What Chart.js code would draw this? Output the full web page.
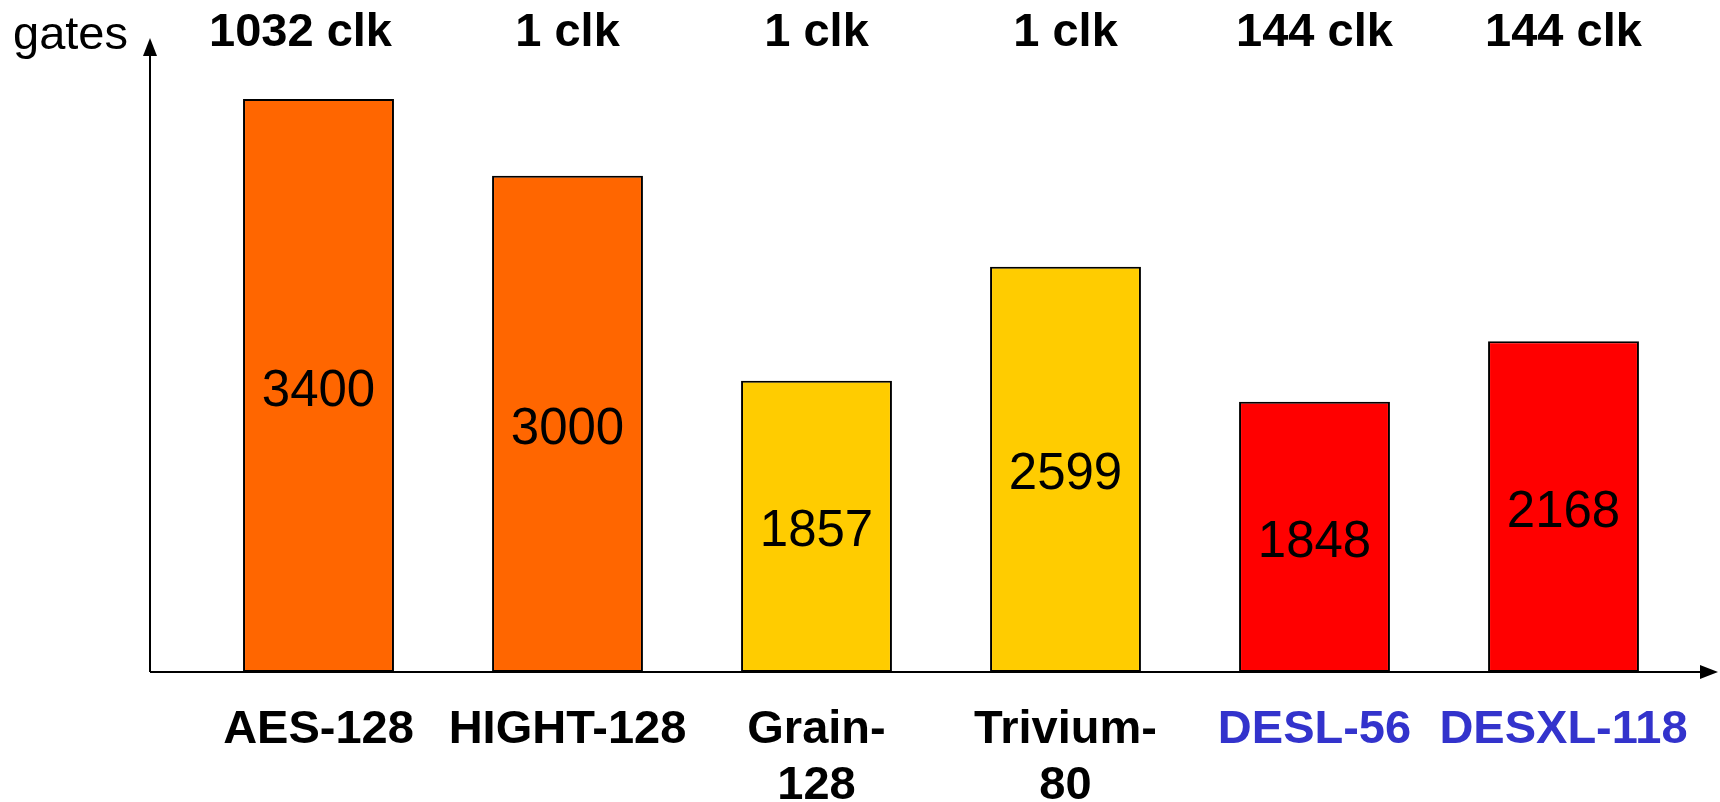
<!DOCTYPE html>
<html>
<head>
<meta charset="utf-8">
<title>gates</title>
<script src="https://cdn.jsdelivr.net/npm/chart.js@4"></script>
<style>
  html, body { margin: 0; padding: 0; background: #fff; }
  #wrap { width: 1720px; height: 802px; }
</style>
</head>
<body>
<div id="wrap"><canvas id="myChart" width="1720" height="802"></canvas></div>
<script>
// categories and values
var ciphers = [['AES-128'], ['HIGHT-128'], ['Grain-', '128'], ['Trivium-', '80'], ['DESL-56'], ['DESXL-118']];
var gateCounts = ['3400', '3000', '1857', '2599', '1848', '2168'];
// bar heights as drawn on the slide (not to scale with the printed counts)
var barHeights = [3400, 2944, 1728, 2404, 1604, 1963];
var clockCycles = ['1032 clk', '1 clk', '1 clk', '1 clk', '144 clk', '144 clk'];

var barColors = ['#FF6600', '#FF6600', '#FFCC00', '#FFCC00', '#FF0000', '#FF0000'];
var labelColors = ['#000000', '#000000', '#000000', '#000000', '#3333CC', '#3333CC'];

var FONT = '"Liberation Sans", Arial, sans-serif';

function arrowHead(ctx, x, y, dir) {
    ctx.beginPath();
    if (dir === 'up') {
        ctx.moveTo(x, y);
        ctx.lineTo(x - 7, y + 18);
        ctx.lineTo(x + 7, y + 18);
    } else {
        ctx.moveTo(x, y);
        ctx.lineTo(x - 18, y - 7);
        ctx.lineTo(x - 18, y + 7);
    }
    ctx.closePath();
    ctx.fill();
}

var slideText = {
    id: 'slideText',
    beforeDatasetsDraw: function (chart) {
        var ctx = chart.ctx;
        var y0 = chart.scales.y.getPixelForValue(0);
        var axisX = 150;
        ctx.save();
        ctx.strokeStyle = '#000';
        ctx.fillStyle = '#000';
        ctx.lineWidth = 2;
        ctx.beginPath();
        ctx.moveTo(axisX, y0);
        ctx.lineTo(axisX, 50);
        ctx.moveTo(axisX, y0);
        ctx.lineTo(1705, y0);
        ctx.stroke();
        arrowHead(ctx, axisX, 38, 'up');
        arrowHead(ctx, 1718, y0, 'right');
        ctx.restore();
    },
    afterDatasetsDraw: function (chart) {
        var ctx = chart.ctx;
        var meta = chart.getDatasetMeta(0);
        ctx.save();

        ctx.fillStyle = '#000';
        ctx.font = '47px ' + FONT;
        ctx.textAlign = 'left';
        ctx.textBaseline = 'alphabetic';
        ctx.fillText('gates', 13, 49);

        meta.data.forEach(function (bar, i) {
            var mid = (bar.y + bar.base) / 2;
            ctx.textAlign = 'center';

            ctx.fillStyle = '#000';
            ctx.font = '51px ' + FONT;
            ctx.textBaseline = 'middle';
            ctx.fillText(gateCounts[i], bar.x, mid + 6);

            ctx.font = 'bold 47px ' + FONT;
            ctx.textBaseline = 'alphabetic';
            ctx.fillText(clockCycles[i], bar.x - (i === 0 ? 18 : 0), 46);

            ctx.fillStyle = labelColors[i];
            ciphers[i].forEach(function (line, j) {
                ctx.fillText(line, bar.x, 743 + j * 56);
            });
        });
        ctx.restore();
    }
};

var ctx = document.getElementById('myChart').getContext('2d');
var myChart = new Chart(ctx, {
    type: 'bar',
    data: {
        labels: ciphers,
        datasets: [{
            data: barHeights,
            backgroundColor: barColors,
            borderColor: '#000',
            borderWidth: 2,
            borderSkipped: false,
            categoryPercentage: 1,
            barPercentage: 0.606
        }]
    },
    options: {
        responsive: false,
        animation: false,
        layout: { padding: { left: 194, right: 32, top: 40, bottom: 130 } },
        plugins: {
            legend: { display: false },
            tooltip: { enabled: false }
        },
        scales: {
            x: { display: false },
            y: {
                display: false,
                min: 0,
                max: 3750
            }
        }
    },
    plugins: [slideText]
});
</script>
</body>
</html>
